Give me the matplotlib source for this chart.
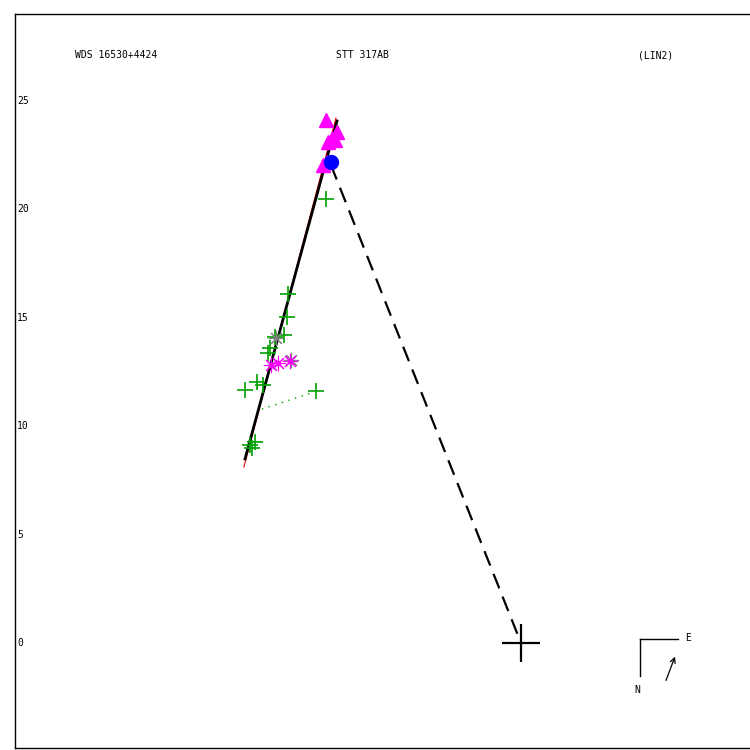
import matplotlib
matplotlib.use('Agg')
import matplotlib.pyplot as plt
import matplotlib.transforms as mtransforms

# 標題文字
title_left = 'WDS 16530+4424'
title_mid = 'STT 317AB'
title_right = '(LIN2)'

# y 軸刻度
ytick_values = [0, 5, 10, 15, 20, 25]

# 觀測點 (arcsec)
plus_x = [-8.99, -10.74, -10.78, -10.92, -11.34, -11.57, -11.66, -12.17, -11.89, -12.72, -9.45, -12.49, -12.26, -12.40]
plus_y = [20.46, 16.08, 15.02, 14.19, 14.10, 13.59, 13.36, 12.03, 11.89, 11.66, 11.61, 9.12, 9.26, 8.99]

star_x = [-11.52, -11.20, -10.65]
star_y = [12.81, 12.90, 13.00]

gray_x = [-11.29, -10.60]
gray_y = [14.06, 13.02]

tri_x = [-8.99, -8.48, -8.71, -8.57, -8.89, -8.94, -9.12]
tri_y = [24.10, 23.55, 23.27, 23.18, 23.09, 22.17, 22.03]

circ_x = [-8.76]
circ_y = [22.17]

# 軌道線
orbit_x = [-8.48, -12.72]
orbit_y = [24.06, 8.48]
orbit2_x = [-8.53, -12.77]
orbit2_y = [24.19, 8.11]

# 殘差線
resid = [((-11.94, -9.68), (10.78, 11.52)), ((-12.17, -11.66), (11.75, 12.07))]

# 節點線 (到主星)
node_x = [-8.76, 0.0]
node_y = [22.03, 0.0]

fig = plt.figure(figsize=(7.5, 7.5), dpi=100)
ax = fig.add_axes([15 / 750, 2 / 750, 736 / 750, 734 / 750])
ax.set_xlim(-23.32, 10.6)
ax.set_ylim(-4.84, 28.99)
ax.set_xticks([])
ax.set_yticks([])
for sp in ax.spines.values():
    sp.set_linewidth(1.0)
ax.spines['right'].set_visible(False)

mono = 'DejaVu Sans Mono'

# 刻度文字放在框內
trans = mtransforms.blended_transform_factory(ax.transAxes, ax.transData)
for v in ytick_values:
    ax.text(0.003, v, str(v), transform=trans, fontsize=7, family=mono, va='center', ha='left')

# 線
ax.plot(node_x, node_y, color='black', lw=1.6, ls=(0, (7, 4)))
ax.plot(orbit2_x, orbit2_y, color='red', lw=0.8)
ax.plot(orbit_x, orbit_y, color='black', lw=2.0)
for rx, ry in resid:
    ax.plot(rx, ry, color='#00a000', lw=1.0, ls=(0, (1, 4)))

# 點
ax.plot(plus_x, plus_y, ls='none', marker='+', ms=11, mew=1.2, color='#00a000')
ax.plot(gray_x, gray_y, ls='none', marker=(8, 2, 0), ms=11, mew=0.8, color='gray')
ax.plot(star_x, star_y, ls='none', marker=(8, 2, 0), ms=11, mew=0.8, color='#ff00ff')
ax.plot(star_x, star_y, ls='none', marker='o', ms=3, color='#ff00ff')
ax.plot(tri_x, tri_y, ls='none', marker='^', ms=10, color='#ff00ff')
ax.plot(circ_x, circ_y, ls='none', marker='o', ms=10, color='#0000ff')

# 主星
ax.plot([0], [0], marker='+', ms=27, mew=1.6, color='black')

# 標題
fig.text(75 / 750, 1 - 55 / 750, title_left, fontsize=7, family=mono, va='center', ha='left')
fig.text(362 / 750, 1 - 55 / 750, title_mid, fontsize=7, family=mono, va='center', ha='center')
fig.text(656 / 750, 1 - 55 / 750, title_right, fontsize=7, family=mono, va='center', ha='center')

# 方位標
fig.add_artist(plt.Line2D([640 / 750, 678 / 750], [1 - 639 / 750, 1 - 639 / 750], color='black', lw=1.0))
fig.add_artist(plt.Line2D([640 / 750, 640 / 750], [1 - 639 / 750, 1 - 676 / 750], color='black', lw=1.0))
fig.text(688 / 750, 1 - 638 / 750, 'E', fontsize=7, family=mono, va='center', ha='center')
fig.text(637 / 750, 1 - 690 / 750, 'N', fontsize=7, family=mono, va='center', ha='center')
ax.annotate('', xy=(676 / 750, 1 - 654 / 750), xytext=(665 / 750, 1 - 683 / 750),
            xycoords='figure fraction', textcoords='figure fraction',
            arrowprops=dict(arrowstyle='->', lw=0.9, color='black', mutation_scale=9))

fig.savefig('out.png', dpi=100)
